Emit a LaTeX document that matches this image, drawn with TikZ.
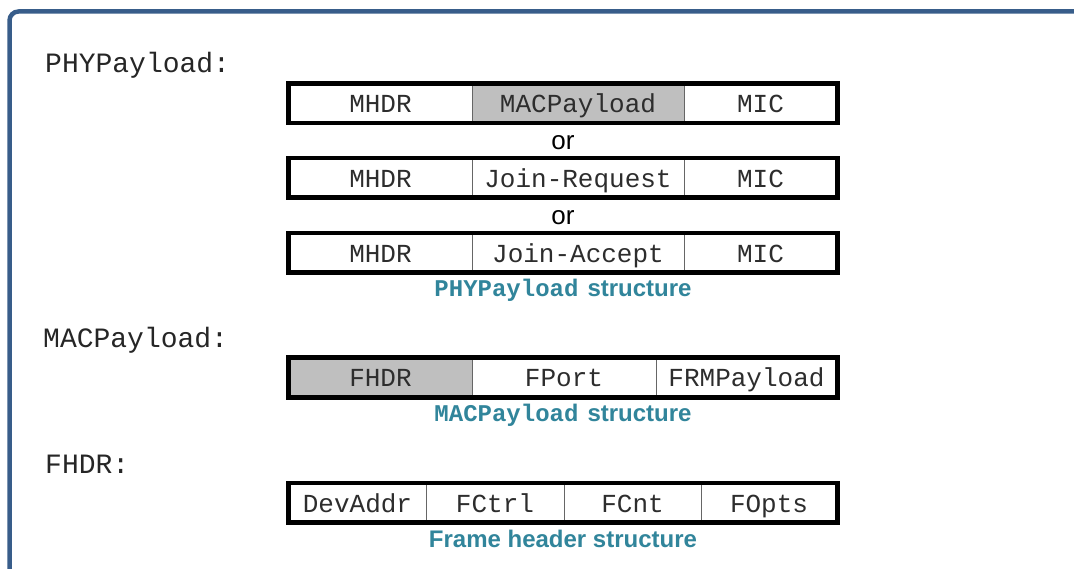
\documentclass[tikz,border=0pt]{standalone}
\usepackage{fontspec}
\usepackage{tikz}
\newfontfamily\courfont{Liberation Mono}
\newfontfamily\arialfont{Liberation Sans}
\definecolor{framebl}{RGB}{56,93,138}
\definecolor{captl}{RGB}{49,133,155}
\definecolor{cellgray}{RGB}{191,191,191}
\definecolor{celltext}{RGB}{45,45,45}
\tikzset{
  cell/.style={draw=black!60,line width=1pt,inner sep=0,minimum height=38.5,
    text height=23,text depth=4,font=\fontsize{26}{28}\selectfont\courfont,text=celltext},
  pktbox/.style={draw=black,line width=4.5pt},
  fieldlabel/.style={anchor=base west,inner sep=0,font=\fontsize{28}{30}\selectfont\courfont,text=black!85},
  ortext/.style={anchor=base,inner sep=0,font=\fontsize{26}{28}\selectfont\arialfont},
  structcap/.style={anchor=base,inner sep=0,text=captl,font=\fontsize{24}{26}\selectfont\bfseries},
}

\begin{document}
\begin{tikzpicture}[x=1pt,y=-1pt]
  \useasboundingbox (0,0) rectangle (1074,569);
  \fill[white] (0,0) rectangle (1074,569);

  % --- Cadre ---
  \draw[framebl,line width=4.5pt,rounded corners=9pt] (9.5,650) -- (9.5,11.5) -- (1100,11.5);

  % --- PHYPayload ---
  \node[fieldlabel] (lblphy) at (45,73) {PHYPayload:};
  \foreach \row/\yc/\mid/\midfill in {A/103.5/MACPayload/cellgray,B/178/Join-Request/white,C/253/Join-Accept/white}{%
    \node[cell,minimum width=183] (phy\row1) at (380.5,\yc) {MHDR};
    \node[cell,minimum width=212,fill=\midfill] (phy\row2) at (578,\yc) {\mid};
    \node[cell,minimum width=153] (phy\row3) at (760.5,\yc) {MIC};
    \draw[pktbox] (phy\row1.north west) rectangle (phy\row3.south east);
  }
  \node[ortext] (orA) at (563,150) {or};
  \node[ortext] (orB) at (563,225) {or};
  \node[structcap] (capphy) at (563,297) {{\courfont PHYPayload} {\arialfont structure}};

  % --- MACPayload ---
  \node[fieldlabel] (lblmac) at (43,348) {MACPayload:};
  \node[cell,minimum width=183,fill=cellgray] (mac1) at (380.5,377.5) {FHDR};
  \node[cell,minimum width=184] (mac2) at (564,377.5) {FPort};
  \node[cell,minimum width=181] (mac3) at (746.5,377.5) {FRMPayload};
  \draw[pktbox] (mac1.north west) rectangle (mac3.south east);
  \node[structcap] (capmac) at (563,421) {{\courfont MACPayload} {\arialfont structure}};

  % --- FHDR ---
  \node[fieldlabel] (lblfhdr) at (45,473) {FHDR:};
  \foreach \xc/\cw/\txt [count=\i] in {357.5/137/DevAddr,495/138/FCtrl,632.5/137/FCnt,769/136/FOpts}{%
    \node[cell,minimum width=\cw] (fhdr\i) at (\xc,502.5) {\txt};
  }
  \draw[pktbox] (fhdr1.north west) rectangle (fhdr4.south east);
  \node[structcap] (capfhdr) at (563,547) {\arialfont Frame header structure};
\end{tikzpicture}
\end{document}
